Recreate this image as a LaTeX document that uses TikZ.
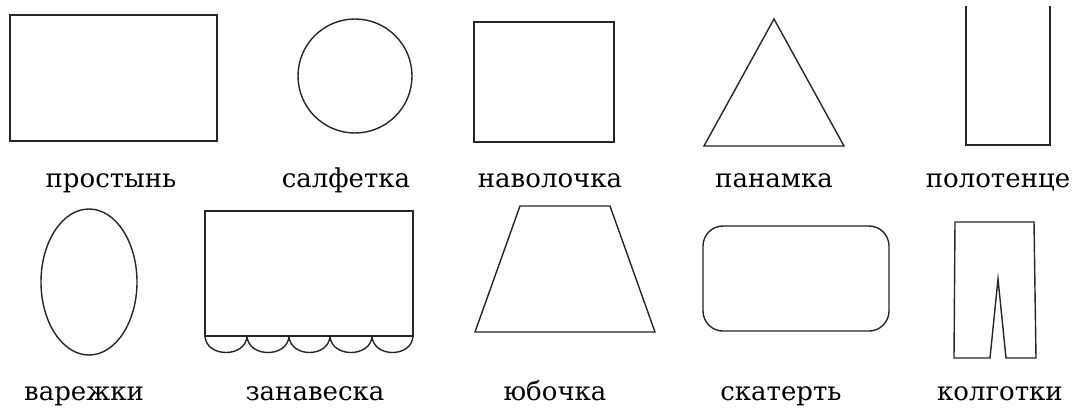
\documentclass[tikz,border=0pt]{standalone}
\usepackage{fontspec}
\setmainfont{DejaVu Serif}
\begin{document}
\begin{tikzpicture}[
        x=1pt, y=-1pt,
        outline/.style={draw=black!85, line width=1.4pt, line join=miter},
        caption/.style={anchor=base, inner sep=0pt, font=\fontsize{26}{30}\selectfont},
    ]
    \useasboundingbox (0,0) rectangle (1077,408);

    % first row
    \draw[outline] (10,15) rectangle (217,141);
    \draw[outline] (355,76) circle [radius=57];
    \draw[outline] (474,22) rectangle (614,142);
    \draw[outline] (774,19) -- (844,146) -- (704,146) -- cycle;
    \draw[outline] (966,6) -- (966,145) -- (1050,145) -- (1050,6);

    \node[caption](prostyn) at (111,187){простынь};
    \node[caption](salfetka) at (346,187){салфетка};
    \node[caption](navolochka) at (550,187){наволочка};
    \node[caption](panamka) at (774,187){панамка};
    \node[caption](polotence) at (998,187){полотенце};

    % second row
    \draw[outline] (89,282) ellipse [x radius=48, y radius=73];
    \draw[outline] (205,211) rectangle (413,336);
    \foreach \a/\b in {205/247, 247/289, 289/330, 330/372, 372/413}
        \draw[outline] (\a,336) .. controls (\a+1,358) and (\b-1,358) .. (\b,336);
    \draw[outline] (520,206) -- (610,206) -- (655,332) -- (475,332) -- cycle;
    \draw[outline, rounded corners=20pt] (703,226) rectangle (889,331);
    \draw[outline] (955,222) -- (1034,222) -- (1036,358) -- (1006,358)
        -- (998,279) -- (990,358) -- (954,358) -- cycle;

    \node[caption](varezhki) at (84,400){варежки};
    \node[caption](zanaveska) at (315,400){занавеска};
    \node[caption](yubochka) at (555,400){юбочка};
    \node[caption](skatert) at (781,400){скатерть};
    \node[caption](kolgotki) at (1000,400){колготки};

\end{tikzpicture}
\end{document}
